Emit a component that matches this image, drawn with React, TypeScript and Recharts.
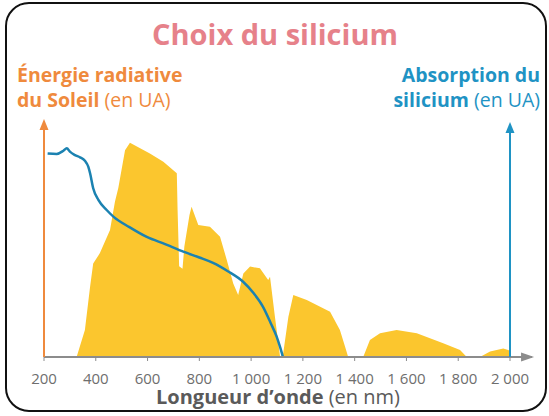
import React from "react";
import {
  ComposedChart,
  Area,
  Line,
  XAxis,
  YAxis,
  ReferenceLine,
  ReferenceDot,
} from "recharts";

// solar spectrum (nm, energy in arbitrary units)
const sunNm = [
  326, 358, 378, 390, 416, 455, 474, 487, 513, 532, 609, 661, 713, 716, 722, 735,
  742, 762, 770, 796, 841, 880, 906, 931, 950, 970, 996, 1034, 1066, 1073, 1092,
  1112, 1124, 1144, 1163, 1215, 1305, 1343, 1363, 1375, 1433, 1459, 1498, 1562,
  1640, 1742, 1807, 1833, 1884, 1923, 1974, 1993, 2000,
];
const sunValues = [
  0, 11, 28.7, 38.2, 42.4, 51.8, 63.4, 69, 84.4, 87.4, 83.1, 79.7, 75, 60, 37, 36,
  45, 58, 61.3, 53.9, 53.2, 49.1, 39.6, 30, 25.3, 34.1, 36.9, 36.2, 31.4, 32.8, 16.4,
  0, 1.5, 16.4, 25.3, 23.3, 18.5, 11, 4.2, 0, 0, 6.9, 9.7, 11,
  9.7, 5.6, 2.9, 0, 0, 2.2, 3.5, 2.9, 2.5,
];

// silicon absorption (nm, arbitrary units)
const siNm = [
  214, 249, 275, 288, 300, 320, 339, 358, 371, 378, 390, 410, 442, 468, 530, 597,
  670, 738, 800, 853, 910, 969, 1010, 1046, 1075, 1099, 1112, 1123,
];
const siValues = [
  83.1, 82.9, 84.2, 85.2, 83.8, 82.4, 81.5, 80.1, 77.7, 75, 68.9, 64.1, 60, 57.3, 53, 49,
  46, 43, 40.6, 38.4, 35, 30.7, 26, 20.5, 14, 8.2, 4, 0,
];

const xTicks = [200, 400, 600, 800, 1000, 1200, 1400, 1600, 1800, 2000];

const allNm = Array.from(new Set([...sunNm, ...siNm])).sort((a, b) => a - b);
const data = allNm.map((nm) => {
  const si = siNm.indexOf(nm);
  const su = sunNm.indexOf(nm);
  return {
    nm,
    sun: su >= 0 ? sunValues[su] : undefined,
    si: si >= 0 ? siValues[si] : undefined,
  };
});

const ORANGE = "#ef8a3d";
const BLUE = "#1f93c4";
const GOLD = "#fbc62e";
const GREY = "#8c8c8c";
const FONT = "'Open Sans', sans-serif";

const fmt = (v: number) =>
  v >= 1000 ? `${Math.floor(v / 1000)} ${String(v % 1000).padStart(3, "0")}` : String(v);

// plain text tick so each label is a single tight <text>
const NmTick = (p: any) => (
  <text
    x={p.x}
    y={p.y + 11}
    textAnchor="middle"
    fontSize={15}
    fontFamily={FONT}
    fill="#6e6e6e"
  >
    {fmt(p.payload.value)}
  </text>
);

const arrowUp = (color: string) => (p: any) => (
  <path d={`M${p.cx},${p.cy} L${p.cx - 4.5},${p.cy + 11} L${p.cx + 4.5},${p.cy + 11} Z`} fill={color} />
);
const arrowRight = (p: any) => (
  <path d={`M${p.cx},${p.cy} L${p.cx - 13},${p.cy - 4.5} L${p.cx - 13},${p.cy + 4.5} Z`} fill={GREY} />
);

export default function App() {
  return (
    <div style={{ position: "absolute", left: 0, top: 0, width: 549, height: 416, background: "#fff" }}>
      <div
        style={{
          position: "absolute",
          left: 5,
          top: 2,
          width: 538,
          height: 406,
          border: "2px solid #111",
          borderRadius: 24,
        }}
      />
      <ComposedChart
        width={549}
        height={416}
        data={data}
        margin={{ top: 112, right: 39, bottom: 29, left: 44 }}
        style={{ position: "absolute", left: 0, top: 0 }}
      >
        <XAxis
          dataKey="nm"
          type="number"
          domain={[200, 2000]}
          ticks={xTicks}
          height={30}
          axisLine={false}
          tickLine={{ stroke: GREY }}
          tickSize={4}
          tickMargin={12}
          tick={NmTick}
          interval={0}
        />
        <YAxis yAxisId="sun" domain={[0, 100]} hide />
        <YAxis yAxisId="si" orientation="right" domain={[0, 100]} hide />
        <Area
          yAxisId="sun"
          dataKey="sun"
          type="linear"
          fill={GOLD}
          fillOpacity={1}
          stroke="none"
          connectNulls
          isAnimationActive={false}
        />
        <Line
          yAxisId="si"
          dataKey="si"
          type="monotone"
          stroke="#1b82b1"
          strokeWidth={2.5}
          dot={false}
          connectNulls
          isAnimationActive={false}
        />
        <ReferenceLine
          yAxisId="sun"
          segment={[{ x: 200, y: 0 }, { x: 2085, y: 0 }]}
          stroke={GREY}
          strokeWidth={2}
          ifOverflow="visible"
        />
        <ReferenceDot yAxisId="sun" x={2093} y={0} ifOverflow="visible" shape={arrowRight} />
        <ReferenceLine
          yAxisId="sun"
          segment={[{ x: 200, y: 0 }, { x: 200, y: 94 }]}
          stroke={ORANGE}
          strokeWidth={2}
          ifOverflow="visible"
        />
        <ReferenceDot yAxisId="sun" x={200} y={97.1} ifOverflow="visible" shape={arrowUp(ORANGE)} />
        <ReferenceLine
          yAxisId="si"
          segment={[{ x: 2000, y: 0 }, { x: 2000, y: 93 }]}
          stroke={BLUE}
          strokeWidth={2}
          ifOverflow="visible"
        />
        <ReferenceDot yAxisId="si" x={2000} y={95.9} ifOverflow="visible" shape={arrowUp(BLUE)} />
      </ComposedChart>
      <svg
        width={549}
        height={416}
        style={{ position: "absolute", left: 0, top: 0, pointerEvents: "none" }}
        fontFamily={FONT}
      >
        <text x={275} y={45} textAnchor="middle" fontSize={29} fontWeight={700} fill="#e6818a">
          Choix du silicium
        </text>
        <text x={17} y={82} fontSize={19.5} fontWeight={700} fill={ORANGE}>
          Énergie radiative
        </text>
        <text x={17} y={107} fontSize={19.5} fill={ORANGE}>
          <tspan fontWeight={700}>du Soleil</tspan> (en UA)
        </text>
        <text x={540} y={82} textAnchor="end" fontSize={19.5} fontWeight={700} fill={BLUE}>
          Absorption du
        </text>
        <text x={540} y={107} textAnchor="end" fontSize={19.5} fill={BLUE}>
          <tspan fontWeight={700}>silicium</tspan> (en UA)
        </text>
        <text x={278} y={404} textAnchor="middle" fontSize={20} fill="#5a5a5a">
          <tspan fontWeight={700}>Longueur d’onde</tspan> (en nm)
        </text>
      </svg>
    </div>
  );
}
